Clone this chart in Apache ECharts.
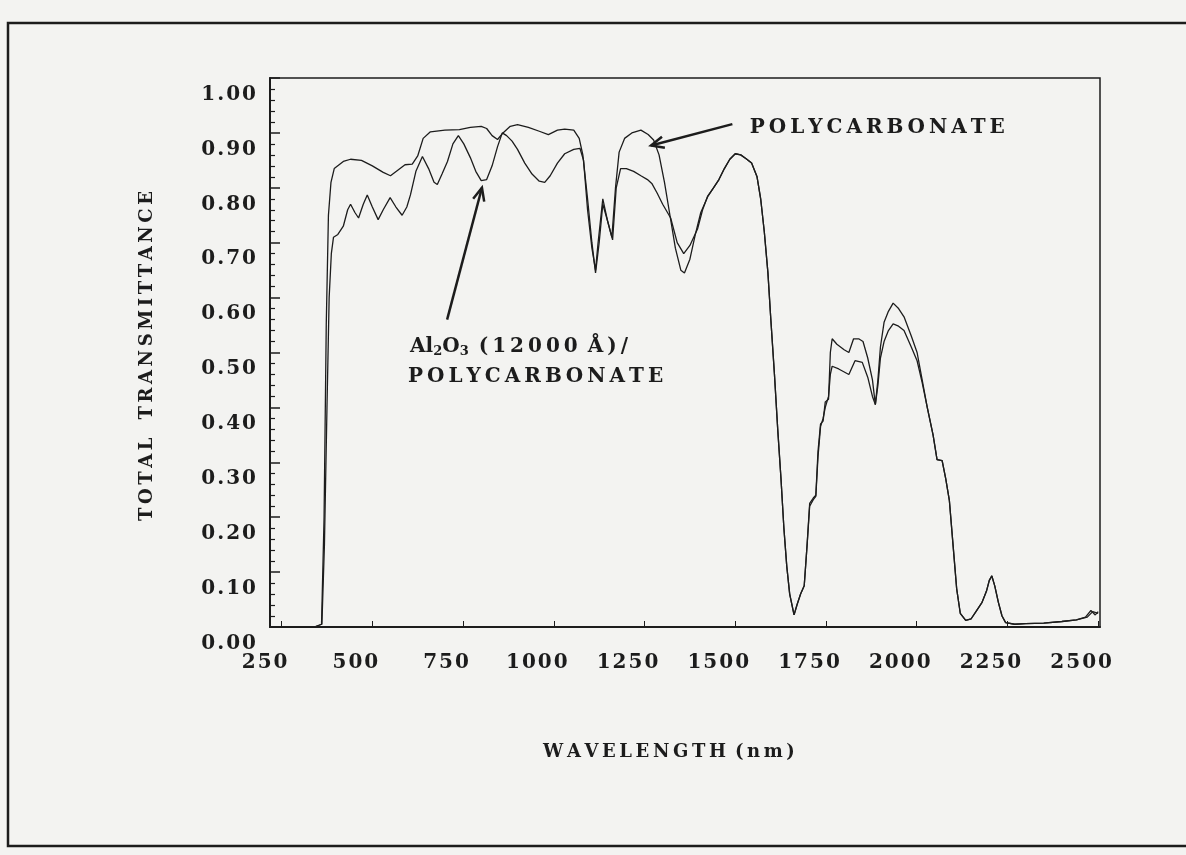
<!DOCTYPE html>
<html>
<head>
<meta charset="utf-8">
<script src="https://cdn.jsdelivr.net/npm/echarts@6/dist/echarts.min.js"></script>
<style>
html,body{margin:0;padding:0;background:#f3f3f1}
#main{width:1186px;height:855px}
</style>
</head>
<body>
<div id="main"></div>
<script>
// polycarbonate alone
var pcWl = [250,340,360,367,373,379,386,395,420,440,470,500,530,550,570,590,610,625,640,660,700,740,770,800,815,830,845,860,880,900,930,960,985,1010,1030,1055,1070,1080,1093,1105,1115,1125,1135,1148,1160,1170,1180,1195,1215,1240,1260,1275,1290,1305,1320,1335,1350,1360,1375,1390,1405,1425,1440,1455,1470,1485,1500,1515,1530,1545,1560,1570,1580,1590,1598,1608,1617,1626,1634,1642,1650,1662,1670,1680,1690,1698,1705,1715,1722,1728,1735,1742,1748,1757,1762,1767,1780,1800,1813,1826,1840,1852,1865,1878,1886,1893,1900,1910,1922,1935,1950,1965,1985,2001,2015,2029,2045,2056,2070,2080,2090,2100,2110,2120,2135,2150,2165,2180,2192,2200,2207,2215,2225,2235,2245,2270,2300,2350,2400,2440,2470,2485,2500];
var pcT = [0,0,0.005,0.2,0.55,0.75,0.81,0.835,0.848,0.852,0.85,0.84,0.828,0.822,0.832,0.842,0.843,0.858,0.89,0.902,0.905,0.906,0.91,0.912,0.908,0.895,0.888,0.9,0.912,0.915,0.91,0.903,0.897,0.905,0.907,0.905,0.89,0.86,0.78,0.7,0.645,0.7,0.77,0.74,0.71,0.8,0.865,0.89,0.9,0.905,0.897,0.887,0.86,0.81,0.75,0.69,0.65,0.645,0.67,0.715,0.755,0.785,0.8,0.815,0.835,0.852,0.862,0.86,0.853,0.845,0.82,0.78,0.72,0.645,0.56,0.46,0.36,0.27,0.18,0.11,0.06,0.022,0.04,0.06,0.075,0.15,0.225,0.235,0.24,0.32,0.37,0.375,0.41,0.415,0.5,0.525,0.515,0.505,0.5,0.525,0.525,0.52,0.49,0.45,0.405,0.45,0.51,0.555,0.575,0.59,0.58,0.565,0.53,0.5,0.45,0.4,0.35,0.305,0.303,0.27,0.23,0.15,0.07,0.025,0.012,0.015,0.03,0.045,0.065,0.085,0.093,0.075,0.045,0.02,0.008,0.005,0.006,0.007,0.01,0.013,0.018,0.028,0.025];

// Al2O3 (12000 A) on polycarbonate
var alWl = [250,340,361,368,375,381,387,393,405,420,432,440,452,462,475,486,500,516,530,549,565,582,595,605,620,638,655,670,679,692,707,722,737,752,770,785,800,815,830,845,858,870,885,900,920,940,960,975,990,1010,1030,1055,1072,1082,1093,1105,1115,1122,1135,1148,1162,1172,1184,1200,1220,1240,1258,1270,1285,1300,1322,1340,1358,1375,1396,1410,1424,1440,1455,1470,1485,1500,1515,1530,1545,1560,1570,1580,1590,1598,1608,1617,1626,1634,1642,1650,1662,1670,1680,1690,1698,1705,1715,1722,1728,1735,1742,1748,1757,1762,1767,1785,1813,1830,1850,1865,1878,1886,1893,1900,1910,1922,1935,1950,1965,1985,2001,2015,2029,2045,2056,2070,2080,2090,2100,2110,2120,2135,2150,2165,2180,2192,2200,2207,2215,2225,2235,2245,2270,2300,2350,2400,2440,2465,2480,2492,2500];
var alT = [0,0,0.005,0.15,0.4,0.6,0.68,0.71,0.715,0.73,0.76,0.77,0.755,0.745,0.77,0.787,0.765,0.742,0.76,0.782,0.765,0.75,0.765,0.787,0.83,0.857,0.835,0.81,0.806,0.825,0.848,0.88,0.895,0.88,0.855,0.83,0.813,0.815,0.84,0.875,0.9,0.895,0.885,0.87,0.845,0.825,0.812,0.81,0.822,0.845,0.862,0.87,0.872,0.85,0.76,0.69,0.65,0.7,0.78,0.74,0.705,0.8,0.835,0.835,0.83,0.822,0.815,0.808,0.79,0.77,0.745,0.7,0.68,0.695,0.725,0.76,0.785,0.8,0.815,0.835,0.852,0.862,0.86,0.853,0.845,0.82,0.78,0.72,0.645,0.56,0.46,0.36,0.27,0.18,0.11,0.06,0.022,0.04,0.06,0.075,0.15,0.22,0.232,0.238,0.31,0.365,0.38,0.4,0.42,0.46,0.475,0.47,0.46,0.485,0.482,0.455,0.42,0.405,0.44,0.49,0.52,0.54,0.552,0.548,0.54,0.51,0.485,0.445,0.4,0.35,0.305,0.303,0.27,0.23,0.15,0.07,0.025,0.012,0.015,0.03,0.045,0.065,0.085,0.093,0.075,0.045,0.02,0.008,0.005,0.006,0.007,0.01,0.013,0.018,0.03,0.022,0.028];

var xTicks = [250,500,750,1000,1250,1500,1750,2000,2250,2500];

var ink = '#1c1c1c';
var serif = '"DejaVu Serif", "Liberation Serif", serif';
function spaced(s) { return s.split('').join('\u2009'); }
function tight(s) { return s.split('').join('\u200A'); }
function pairs(a, b) { return a.map(function (v, i) { return [v, b[i]]; }); }

var myChart = echarts.init(document.getElementById('main'));
var option = {
    backgroundColor: '#f3f3f1',
    animation: false,
    grid: {
        left: 270, right: 86, top: 78, bottom: 228,
        show: true, borderColor: ink, borderWidth: 1.5, backgroundColor: 'transparent'
    },
    xAxis: {
        type: 'value', min: 218, max: 2505,
        axisLine: { lineStyle: { color: ink, width: 2 } },
        axisTick: { inside: true, length: 6, customValues: xTicks, lineStyle: { color: ink } },
        axisLabel: {
            customValues: xTicks, margin: 26, padding: [0, 34, 0, 0],
            color: ink, fontFamily: serif, fontWeight: 'bold', fontSize: 20,
            formatter: function (v) { return tight(String(v)); }
        },
        splitLine: { show: false }
    },
    yAxis: {
        type: 'value', min: 0, max: 1, interval: 0.1,
        axisLine: { show: true, lineStyle: { color: ink, width: 2 } },
        axisTick: { show: true, inside: true, length: 10, lineStyle: { color: ink, width: 1.5 } },
        minorTick: { show: true, splitNumber: 5, length: 5, lineStyle: { color: ink, width: 1.2 } },
        axisLabel: {
            margin: 14, verticalAlign: 'top', lineHeight: 33,
            color: ink, fontFamily: serif, fontWeight: 'bold', fontSize: 20,
            formatter: function (v) { return tight(v.toFixed(2)); }
        },
        splitLine: { show: false },
        minorSplitLine: { show: false }
    },
    series: [{
        name: 'POLYCARBONATE', type: 'line', showSymbol: false,
        lineStyle: { color: ink, width: 1.3 },
        data: pairs(pcWl, pcT)
    }, {
        name: 'Al2O3 / POLYCARBONATE', type: 'line', showSymbol: false,
        lineStyle: { color: ink, width: 1.3 },
        data: pairs(alWl, alT)
    }]
};
myChart.setOption(option);

// annotations, anchored in data units
function px(p) { return myChart.convertToPixel({ gridIndex: 0 }, p); }
function arrow(tail, tip) {
    var a = px(tail), b = px(tip);
    var ang = Math.atan2(a[1] - b[1], a[0] - b[0]);
    var L = 14, s = 0.42;
    var h1 = [b[0] + L * Math.cos(ang + s), b[1] + L * Math.sin(ang + s)];
    var h2 = [b[0] + L * Math.cos(ang - s), b[1] + L * Math.sin(ang - s)];
    return [
        { type: 'polyline', shape: { points: [a, b] }, style: { stroke: ink, lineWidth: 2.5, fill: null } },
        { type: 'polyline', shape: { points: [h1, b, h2] }, style: { stroke: ink, lineWidth: 2.5, fill: null } }
    ];
}
var pcLab = px([1540, 0.91]);
var alLab = px([604, 0.51]);
var txt = function (x, y, s, size, align) {
    return {
        type: 'text', x: x, y: y,
        style: { text: s, fill: ink, font: 'bold ' + size + 'px ' + serif, align: align || 'left', verticalAlign: 'middle', textAlign: align || 'left', textVerticalAlign: 'middle' }
    };
};
var g = [
    { type: 'rect', shape: { x: 8, y: 23, width: 1200, height: 823 }, style: { stroke: ink, lineWidth: 2.5, fill: null } },
    {
        type: 'text', x: 147, y: 356, rotation: Math.PI / 2,
        style: { text: spaced('TOTAL') + '\u2003' + spaced('TRANSMITTANCE'), fill: ink, font: 'bold 18px ' + serif, align: 'center', verticalAlign: 'middle', textAlign: 'center', textVerticalAlign: 'middle' }
    },
    txt(669, 752, spaced('WAVELENGTH') + '\u2002' + spaced('(nm)'), 18, 'center'),
    txt(pcLab[0], pcLab[1], spaced('POLYCARBONATE'), 20),
    {
        type: 'text', x: alLab[0], y: alLab[1],
        style: {
            text: 'Al{sub|2}O{sub|3}\u2002' + spaced('(12000') + '\u2002' + spaced('Å)/'),
            rich: { sub: { fontSize: 13, fontWeight: 'bold', fontFamily: serif, padding: [10, 0, 0, 0] } },
            fill: ink, font: 'bold 20px ' + serif, align: 'left', verticalAlign: 'middle', textAlign: 'left', textVerticalAlign: 'middle'
        }
    },
    txt(alLab[0] - 2, alLab[1] + 30, spaced('POLYCARBONATE'), 20)
];
g = g.concat(arrow([1492, 0.916], [1268, 0.877]));
g = g.concat(arrow([706, 0.56], [802, 0.8]));
myChart.setOption({ graphic: g });
</script>
</body>
</html>
